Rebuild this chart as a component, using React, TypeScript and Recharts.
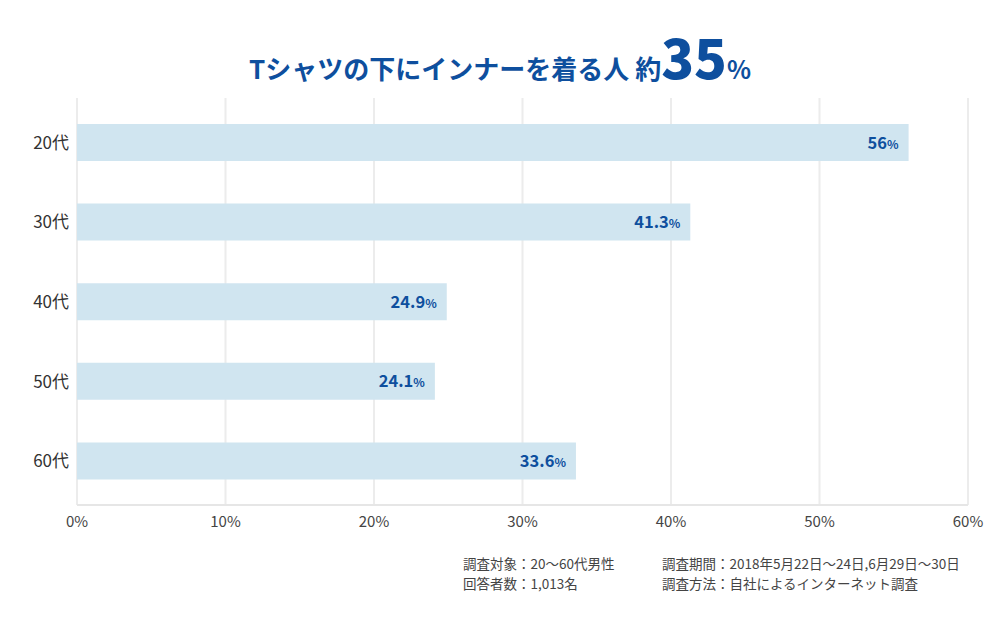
import { BarChart, Bar, XAxis, YAxis, CartesianGrid, LabelList } from "recharts";

const ages = ["20代", "30代", "40代", "50代", "60代"];
const rates = [56, 41.3, 24.9, 24.1, 33.6];
const xTicks = [0, 10, 20, 30, 40, 50, 60];

const data = ages.map((age, i) => ({ age, rate: rates[i] }));

const FONT = "'Noto Sans CJK JP', 'Noto Sans', sans-serif";
const BLUE = "#0e4f9e";

function ValueLabel(props: any) {
  const { x, y, width, height, value } = props;
  return (
    <text
      x={x + width - 10}
      y={y + height / 2 + 6}
      textAnchor="end"
      fontFamily={FONT}
      fontWeight={700}
      fill={BLUE}
    >
      <tspan fontSize={16.5}>{value}</tspan>
      <tspan fontSize={12}>%</tspan>
    </text>
  );
}

export default function App() {
  return (
    <div style={{ position: "absolute", left: 0, top: 0, width: 1000, height: 622, background: "#fff", fontFamily: FONT }}>
      <div
        style={{
          position: "absolute",
          top: 24,
          left: 0,
          width: 1000,
          textAlign: "center",
          color: BLUE,
          fontWeight: 700,
          fontSize: 26,
          lineHeight: "64px",
        }}
      >
        Tシャツの下にインナーを着る人 約<span style={{ fontSize: 54, fontWeight: 900 }}>35</span>
        <span style={{ fontSize: 25 }}>%</span>
      </div>

      <BarChart
        width={1000}
        height={622}
        layout="vertical"
        data={data}
        margin={{ top: 98, right: 32, bottom: 87, left: 17 }}
      >
        <CartesianGrid horizontal={false} stroke="#ececec" strokeWidth={2} />
        <XAxis
          type="number"
          domain={[0, 60]}
          ticks={xTicks}
          tickFormatter={(v) => `${v}%`}
          tickLine={false}
          axisLine={{ stroke: "#e6e6e6", strokeWidth: 2 }}
          tick={{ fontSize: 15, fill: "#444", fontFamily: FONT }}
          tickMargin={5}
          height={30}
        />
        <YAxis
          type="category"
          dataKey="age"
          width={60}
          axisLine={false}
          tickLine={false}
          tick={{ fontSize: 17, fill: "#333", fontFamily: FONT }}
          tickMargin={2}
          padding={{ top: 5, bottom: 4 }}
        />
        <Bar dataKey="rate" fill="#d0e5f0" barSize={37} isAnimationActive={false}>
          <LabelList dataKey="rate" content={<ValueLabel />} />
        </Bar>
      </BarChart>

      <div style={{ position: "absolute", left: 463, top: 553, fontSize: 13.5, color: "#444", lineHeight: "20px" }}>
        調査対象：20〜60代男性
        <br />
        回答者数：1,013名
      </div>
      <div style={{ position: "absolute", left: 662, top: 553, fontSize: 13.5, color: "#444", lineHeight: "20px" }}>
        調査期間：2018年5月22日〜24日,6月29日〜30日
        <br />
        調査方法：自社によるインターネット調査
      </div>
    </div>
  );
}
